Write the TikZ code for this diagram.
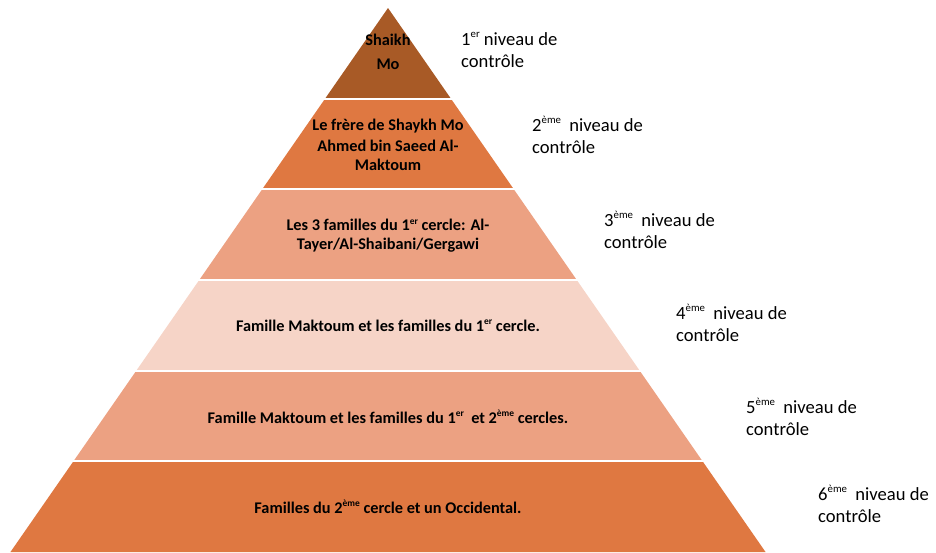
\documentclass[tikz,border=0pt]{standalone}
\usepackage{fontspec}
\setmainfont{Carlito}
\definecolor{lvlA}{HTML}{A85A26}
\definecolor{lvlB}{HTML}{DF7841}
\definecolor{lvlC}{HTML}{ECA182}
\definecolor{lvlD}{HTML}{F6D4C7}
\newcommand{\up}[1]{\raisebox{0.42em}{\fontsize{0.58em}{0.6em}\selectfont #1}}
\begin{document}
\begin{tikzpicture}[x=1pt,y=-1pt,
	inner/.style={font=\bfseries\fontsize{16.3}{21}\selectfont,align=center,inner sep=0pt},
	lvl/.style={anchor=west,align=left,inner sep=0pt,font=\fontsize{18.6}{22}\selectfont}]
	\useasboundingbox (0,0) rectangle (936,552);
	\foreach \i/\c in {1/lvlA,2/lvlB,3/lvlC,4/lvlD,5/lvlC,6/lvlB}{
		\pgfmathsetmacro\ta{(\i-1)*90.67}
		\pgfmathsetmacro\tb{\i*90.67}
		\fill[\c] ({388-0.694*\ta},{8+\ta}) -- ({388+0.694*\ta},{8+\ta}) -- ({388+0.694*\tb},{8+\tb}) -- ({388-0.694*\tb},{8+\tb}) -- cycle;}
	\foreach \i in {1,...,5}
		\draw[white,line width=2pt] (0,{8+\i*90.67}) -- (936,{8+\i*90.67});
	\node[inner] (t1) at (388,52) {Shaikh\\[3pt]Mo};
	\node[inner] (t2) at (388,145) {Le frère de Shaykh Mo\\Ahmed bin Saeed Al-\\[-2pt]Maktoum};
	\node[inner] (t3) at (388,236) {Les 3 familles du 1\up{er} cercle: Al-\\[-2pt]Tayer/Al-Shaibani/Gergawi};
	\node[inner] (t4) at (388,326) {Famille Maktoum et les familles du 1\up{er} cercle.};
	\node[inner] (t5) at (388,417) {Famille Maktoum et les familles du 1\up{er}\ \ et 2\up{ème} cercles.};
	\node[inner] (t6) at (388,507) {Familles du 2\up{ème} cercle et un Occidental.};
	\node[lvl] (n1) at (461,50) {1\up{er} niveau de\\contrôle};
	\node[lvl] (n2) at (532,135) {2\up{ème}\ \ niveau de\\contrôle};
	\node[lvl] (n3) at (604,230) {3\up{ème}\ \ niveau de\\contrôle};
	\node[lvl] (n4) at (676,323) {4\up{ème}\ \ niveau de\\contrôle};
	\node[lvl] (n5) at (746,417) {5\up{ème}\ \ niveau de\\contrôle};
	\node[lvl] (n6) at (818,504) {6\up{ème}\ \ niveau de\\contrôle};
\end{tikzpicture}
\end{document}
